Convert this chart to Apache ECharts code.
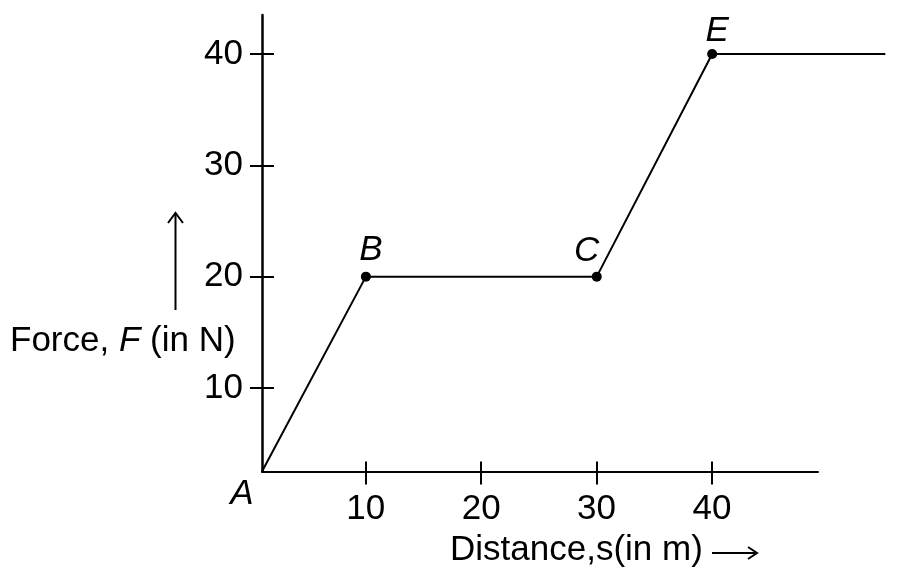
<!DOCTYPE html>
<html>
<head>
<meta charset="utf-8">
<title>Force vs Distance</title>
<script src="https://cdn.jsdelivr.net/npm/echarts@6/dist/echarts.min.js"></script>
<style>
	html, body { margin: 0; padding: 0; background: #fff; }
	#chart { width: 900px; height: 579px; }
</style>
</head>
<body>
<div id="chart"></div>
<script>
// points: distance s (m), force F (N)
var pointNames = ['A', 'B', 'C', 'E', ''];
var distance = [1.0, 10, 30, 40, 55];
var force = [2.5, 20, 20, 40, 40];
var xTicks = [10, 20, 30, 40];
var yTicks = [10, 20, 30, 40];

var fontName = '"Liberation Sans", Arial, sans-serif';
var fontSize = 35;

function labelFor(name) {
	// where each letter sits next to its point
	var pos = {
		A: { position: 'bottom', offset: [-20, 0] },
		B: { position: 'top', offset: [5, 1.5] },
		C: { position: 'top', offset: [-10, 2.5] },
		E: { position: 'top', offset: [5, 5] }
	};
	if (!pos[name]) {
		return { show: false };
	}
	return {
		show: true,
		formatter: name,
		position: pos[name].position,
		offset: pos[name].offset,
		color: '#000',
		fontSize: fontSize,
		fontStyle: 'italic',
		fontFamily: fontName
	};
}

function buildData() {
	var data = [];
	for (var i = 0; i < distance.length; i++) {
		var item = {
			value: [distance[i], force[i]],
			label: labelFor(pointNames[i])
		};
		if (pointNames[i] == 'A' || pointNames[i] == '') {
			// no dot here, but keep a tiny symbol so the label can hang on it
			item.symbolSize = 0.01;
		}
		data.push(item);
	}
	return data;
}

function axisPair(dir, min, max, ticks, outLen, inLen, lineWidth) {
	var common = {
		type: 'value',
		gridIndex: 0,
		min: min,
		max: max,
		position: dir == 'x' ? 'bottom' : 'left',
		offset: 0,
		splitLine: { show: false }
	};
	var main = echarts.util.extend({
		axisLine: {
			show: true,
			onZero: false,
			lineStyle: { color: '#000', width: lineWidth }
		},
		axisTick: {
			show: true,
			customValues: ticks,
			length: outLen,
			lineStyle: { color: '#000', width: 2 }
		},
		axisLabel: {
			show: true,
			customValues: ticks,
			margin: dir == 'x' ? 20 : 19,
			color: '#000',
			fontSize: fontSize,
			fontFamily: fontName
		}
	}, common);
	// second copy only for the half of each tick that sits inside the plot
	var inner = echarts.util.extend({
		axisLine: { show: false, onZero: false },
		axisTick: {
			show: true,
			inside: true,
			customValues: ticks,
			length: inLen,
			lineStyle: { color: '#000', width: 2 }
		},
		axisLabel: { show: false }
	}, common);
	return [main, inner];
}

function drawChart() {
	var myChart = echarts.init(document.getElementById('chart'));

	var xAxes = axisPair('x', 1.0, 49.2, xTicks, 13, 10, 2);
	var yAxes = axisPair('y', 2.5, 43.5, yTicks, 12, 12, 2.5);
	// the curve runs on past the end of the drawn x axis, so it gets a wider hidden grid
	xAxes.push({ type: 'value', gridIndex: 1, min: 1.0, max: 55, show: false });
	yAxes.push({ type: 'value', gridIndex: 1, min: 2.5, max: 43.5, show: false });

	var option = {
		backgroundColor: '#fff',
		animation: false,
		grid: [
			{ left: 262, top: 15, width: 556, height: 456.5, outerBoundsMode: 'none' },
			{ left: 262, top: 15, width: 623.3, height: 456.5, outerBoundsMode: 'none' }
		],
		xAxis: xAxes,
		yAxis: yAxes,
		series: [
			{
				type: 'line',
				xAxisIndex: 2,
				yAxisIndex: 2,
				clip: false,
				symbol: 'circle',
				symbolSize: 10,
				showSymbol: true,
				lineStyle: { color: '#000', width: 2 },
				itemStyle: { color: '#000' },
				data: buildData()
			}
		],
		graphic: [
			{
				type: 'text',
				x: 10,
				y: 341,
				style: {
					text: '{n|Force, }{i|F}{n| (in N)}',
					verticalAlign: 'middle',
					rich: {
						n: { fontSize: fontSize, fontFamily: fontName, fill: '#000' },
						i: { fontSize: fontSize, fontFamily: fontName, fontStyle: 'italic', fill: '#000' }
					}
				}
			},
			{
				type: 'line',
				shape: { x1: 175.5, y1: 310, x2: 175.5, y2: 214 },
				style: { stroke: '#000', lineWidth: 2 }
			},
			{
				type: 'polyline',
				shape: { points: [[168, 223], [175.5, 213], [183, 223]] },
				style: { stroke: '#000', lineWidth: 2, fill: null }
			},
			{
				type: 'text',
				x: 450,
				y: 550,
				style: {
					text: 'Distance,s(in m)',
					verticalAlign: 'middle',
					fontSize: fontSize,
					fontFamily: fontName,
					fill: '#000'
				}
			},
			{
				type: 'line',
				shape: { x1: 712, y1: 553, x2: 755, y2: 553 },
				style: { stroke: '#000', lineWidth: 2 }
			},
			{
				type: 'polyline',
				shape: { points: [[748, 547], [757, 553], [748, 559]] },
				style: { stroke: '#000', lineWidth: 2, fill: null }
			}
		]
	};

	myChart.setOption(option);
	window.addEventListener("resize", function () {
		myChart.resize();
	});
}

drawChart();
</script>
</body>
</html>
